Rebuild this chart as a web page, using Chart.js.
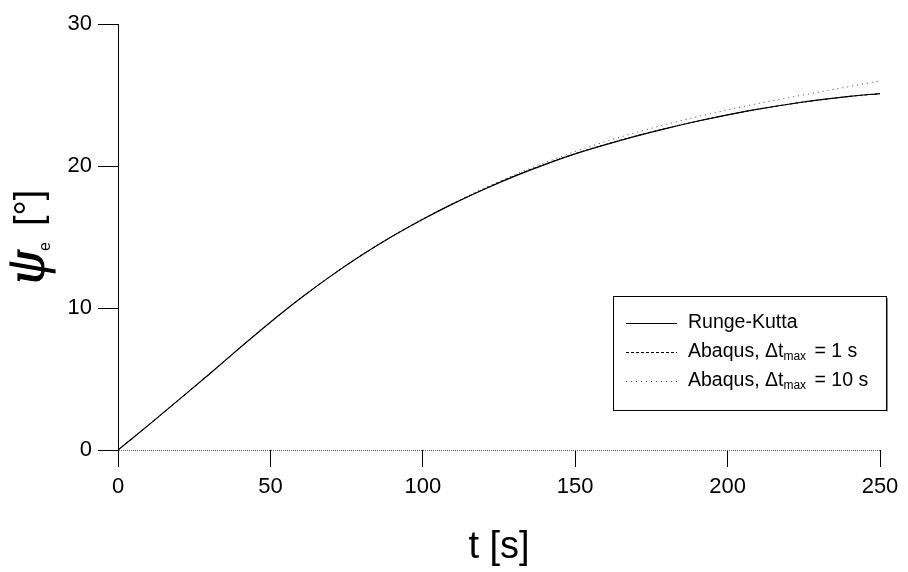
<!DOCTYPE html>
<html>
<head>
<meta charset="utf-8">
<script src="https://cdn.jsdelivr.net/npm/chart.js@4.4.1/dist/chart.umd.min.js"></script>
<style>
  html, body { margin: 0; padding: 0; background: #fff; }
  #wrap { width: 908px; height: 572px; position: relative; }
</style>
</head>
<body>
<div id="wrap"><canvas id="chart"></canvas></div>
<script>
// Yaw angle response, Runge-Kutta vs Abaqus
const times = [0, 10, 20, 30, 40, 50, 60, 70, 80, 90, 100, 110, 120, 130, 140, 150, 160, 170, 180, 190, 200, 210, 220, 230, 240, 250];
const rungeKutta = [0, 1.75, 3.55, 5.35, 7.2, 9.0, 10.7, 12.28, 13.73, 15.05, 16.25, 17.35, 18.35, 19.27, 20.1, 20.85, 21.5, 22.1, 22.65, 23.15, 23.6, 24.0, 24.35, 24.65, 24.9, 25.1];
const abaqus1s = [0, 1.75, 3.55, 5.35, 7.2, 9.0, 10.7, 12.28, 13.73, 15.05, 16.25, 17.35, 18.37, 19.3, 20.12, 20.87, 21.52, 22.12, 22.66, 23.15, 23.6, 24.0, 24.35, 24.65, 24.9, 25.1];
const abaqus10s = [0, 1.75, 3.55, 5.35, 7.2, 9.0, 10.7, 12.28, 13.73, 15.05, 16.27, 17.39, 18.42, 19.37, 20.23, 21.02, 21.72, 22.36, 22.94, 23.47, 23.95, 24.4, 24.81, 25.2, 25.6, 26.0];

// Legend labels, split so "max" can be drawn as a subscript
const legendLabels = [
    [{ t: 'Runge-Kutta' }],
    [{ t: 'Abaqus, \u0394t' }, { t: 'max', sub: true }, { t: ' = 1 s' }],
    [{ t: 'Abaqus, \u0394t' }, { t: 'max', sub: true }, { t: ' = 10 s' }]
];

const FONT = "'Liberation Sans', Arial, Helvetica, sans-serif";

// Draw a run of text pieces, subscripts smaller and lower
function drawPieces(ctx, pieces, x, y, size, subSize, subDrop) {
    pieces.forEach(p => {
        const s = p.sub ? subSize : size;
        ctx.font = `${s}px ${FONT}`;
        ctx.fillText(p.t, x, y + (p.sub ? subDrop : 0));
        x += ctx.measureText(p.t).width + (p.sub ? 3 : 0);
    });
}

// Axis titles drawn by hand (need a subscript on the y title)
const titlesPlugin = {
    id: 'titles',
    afterDraw(chart) {
        const ctx = chart.ctx;
        const area = chart.chartArea;
        ctx.save();
        ctx.fillStyle = '#000';
        ctx.textBaseline = 'alphabetic';

        // x title
        ctx.font = `38px ${FONT}`;
        ctx.textAlign = 'center';
        ctx.fillText('t [s]', (area.left + area.right) / 2, 558);

        // y title, rotated
        ctx.textAlign = 'left';
        ctx.translate(43, 284);
        ctx.rotate(-Math.PI / 2);
        ctx.font = `italic 54px 'Liberation Serif', 'DejaVu Serif', serif`;
        ctx.lineWidth = 1.2;
        ctx.strokeStyle = '#000';
        ctx.fillText('\u03C8', 0, 0);
        ctx.strokeText('\u03C8', 0, 0);
        ctx.font = `16px ${FONT}`;
        ctx.fillText('e', 33, 7);
        ctx.font = `38px ${FONT}`;
        ctx.fillText('[\u00B0]', 58, -2);
        ctx.restore();
    }
};

// Boxed legend in the lower right
const legendPlugin = {
    id: 'boxLegend',
    afterDraw(chart) {
        const ctx = chart.ctx;
        const box = { left: 613, top: 296, right: 886, bottom: 410 };
        ctx.save();
        ctx.fillStyle = '#fff';
        ctx.fillRect(box.left, box.top, box.right - box.left, box.bottom - box.top);
        ctx.strokeStyle = '#000';
        ctx.lineWidth = 1;
        ctx.strokeRect(box.left + 0.5, box.top + 0.5, box.right - box.left, box.bottom - box.top);
        ctx.strokeStyle = '#888';
        ctx.beginPath();
        ctx.moveTo(box.right + 1.5, box.top + 2);
        ctx.lineTo(box.right + 1.5, box.bottom + 1.5);
        ctx.stroke();

        const rows = [323, 352, 381];
        chart.data.datasets.forEach((ds, i) => {
            const y = rows[i] + 0.5;
            ctx.strokeStyle = ds.borderColor;
            ctx.lineWidth = ds.borderWidth;
            ctx.setLineDash(ds.borderDash || []);
            ctx.beginPath();
            ctx.moveTo(626, y);
            ctx.lineTo(677, y);
            ctx.stroke();
            ctx.setLineDash([]);
            ctx.fillStyle = '#000';
            ctx.textAlign = 'left';
            ctx.textBaseline = 'middle';
            drawPieces(ctx, legendLabels[i], 688, rows[i], 19.5, 12, 5);
        });
        ctx.restore();
    }
};

const ctx = document.getElementById('chart').getContext('2d');

new Chart(ctx, {
    type: 'line',
    data: {
        datasets: [
            {
                label: 'Runge-Kutta',
                data: times.map((t, i) => ({ x: t, y: rungeKutta[i] })),
                borderColor: '#000',
                borderWidth: 1.2,
                borderDash: [],
                pointRadius: 0,
                cubicInterpolationMode: 'monotone',
                fill: false
            },
            {
                label: 'Abaqus, dt max = 1 s',
                data: times.map((t, i) => ({ x: t, y: abaqus1s[i] })),
                borderColor: '#000',
                borderWidth: 1,
                borderDash: [3, 2],
                pointRadius: 0,
                cubicInterpolationMode: 'monotone',
                fill: false
            },
            {
                label: 'Abaqus, dt max = 10 s',
                data: times.map((t, i) => ({ x: t, y: abaqus10s[i] })),
                borderColor: '#444',
                borderWidth: 1,
                borderDash: [1, 4],
                pointRadius: 0,
                cubicInterpolationMode: 'monotone',
                fill: false
            }
        ]
    },
    options: {
        responsive: true,
        maintainAspectRatio: false,
        animation: false,
        layout: {
            padding: { top: 24, right: 28, left: 0, bottom: 0 }
        },
        plugins: {
            legend: { display: false },
            tooltip: { enabled: false }
        },
        scales: {
            x: {
                type: 'linear',
                min: 0,
                max: 250,
                ticks: {
                    stepSize: 50,
                    color: '#000',
                    padding: 7,
                    maxRotation: 0,
                    font: { family: FONT, size: 22 }
                },
                grid: {
                    drawOnChartArea: false,
                    drawTicks: true,
                    tickLength: 17,
                    tickColor: '#000'
                },
                border: { display: false },
                afterFit: scale => { scale.height = 122; }
            },
            y: {
                min: 0,
                max: 30,
                ticks: {
                    stepSize: 10,
                    color: '#000',
                    padding: 6,
                    font: { family: FONT, size: 22 }
                },
                grid: {
                    drawOnChartArea: true,
                    // only the zero line shows, as a fine dotted line
                    color: c => (c.tick && c.tick.value === 0) ? '#666' : 'rgba(0,0,0,0)',
                    lineWidth: 1,
                    tickLength: 20,
                    tickColor: '#000',
                    tickBorderDash: []
                },
                border: { display: true, color: '#000', width: 1, dash: [1, 1] },
                afterFit: scale => { scale.width = 118; }
            }
        }
    },
    plugins: [titlesPlugin, legendPlugin]
});
</script>
</body>
</html>
